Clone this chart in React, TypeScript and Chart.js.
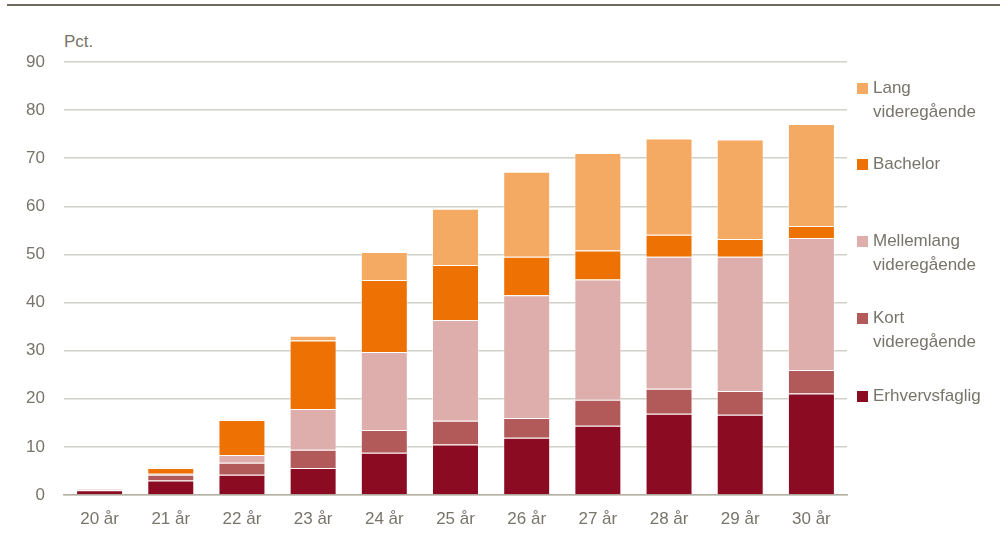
import React, { useEffect, useRef } from "react";
import { Chart, registerables } from "chart.js";

Chart.register(...registerables);

const categories = ["20 år", "21 år", "22 år", "23 år", "24 år", "25 år", "26 år", "27 år", "28 år", "29 år", "30 år"];
const erhvervsfaglig = [1.0, 3.0, 4.2, 5.6, 8.8, 10.5, 11.9, 14.4, 16.9, 16.7, 21.1];
const kortVideregaaende = [0.1, 1.2, 2.5, 3.8, 4.7, 4.95, 4.1, 5.4, 5.2, 4.9, 4.9];
const mellemlangVideregaaende = [0.2, 0.2, 1.6, 8.5, 16.2, 20.95, 25.5, 25.0, 27.4, 27.9, 27.4];
const bachelor = [0.0, 1.2, 7.3, 14.2, 15.0, 11.4, 8.0, 6.0, 4.6, 3.7, 2.5];
const langVideregaaende = [0.0, 0.1, 0.1, 1.0, 5.8, 11.7, 17.7, 20.3, 20.0, 20.7, 21.2];
const yTicks = [0, 10, 20, 30, 40, 50, 60, 70, 80, 90];

const seriesNames = ["Erhvervsfaglig", "Kort videregående", "Mellemlang videregående", "Bachelor", "Lang videregående"];
const seriesColors = ["#8B0C22", "#B2595A", "#DEAEAC", "#EE7203", "#F5AA63"];
const seriesData = [erhvervsfaglig, kortVideregaaende, mellemlangVideregaaende, bachelor, langVideregaaende];

const legendItems = [
  { lines: ["Lang", "videregående"], color: "#F5AA63", center: 88 },
  { lines: ["Bachelor"], color: "#EE7203", center: 164 },
  { lines: ["Mellemlang", "videregående"], color: "#DEAEAC", center: 241 },
  { lines: ["Kort", "videregående"], color: "#B2595A", center: 318 },
  { lines: ["Erhvervsfaglig"], color: "#8B0C22", center: 396 },
];

const FONT = "'Liberation Sans Narrow', 'Arial Narrow', 'Liberation Sans', sans-serif";
const TEXT = "#77746a";

export default function App() {
  const ref = useRef<HTMLCanvasElement | null>(null);

  useEffect(() => {
    if (!ref.current) return;
    const chart = new Chart(ref.current, {
      type: "bar",
      data: {
        labels: categories,
        datasets: seriesData.map((d, i) => ({
          label: seriesNames[i],
          data: d,
          backgroundColor: seriesColors[i],
          borderColor: "rgba(255,255,255,0.45)",
          borderWidth: 1,
          barPercentage: 0.66,
          categoryPercentage: 1,
        })),
      },
      options: {
        animation: false,
        responsive: false,
        maintainAspectRatio: false,
        layout: { padding: { left: 0, right: 153, top: 62, bottom: 0 } },
        plugins: { legend: { display: false }, tooltip: { enabled: false } },
        scales: {
          x: {
            stacked: true,
            grid: { display: false, drawTicks: false },
            border: { display: true, color: "#b3b0a4", width: 1.5 },
            ticks: { color: TEXT, font: { family: FONT, size: 17 }, padding: 14 },
            afterFit: (s: any) => { s.height = 44; },
          },
          y: {
            stacked: true,
            min: 0,
            max: 90,
            afterBuildTicks: (s: any) => { s.ticks = yTicks.map((v) => ({ value: v })); },
            grid: { color: "#d2d0c7", lineWidth: 1.5, drawTicks: false },
            border: { display: false },
            ticks: { color: TEXT, font: { family: FONT, size: 17 }, padding: 19 },
            afterFit: (s: any) => { s.width = 64; },
          },
        },
      },
    });
    return () => chart.destroy();
  }, []);

  return (
    <div style={{ position: "fixed", left: 0, top: 0, width: 1000, height: 539, background: "#fff", overflow: "hidden", fontFamily: FONT }}>
      <div style={{ position: "absolute", left: 7, top: 4, width: 993, height: 2, background: "#6f6b5d" }} />
      <div style={{ position: "absolute", left: 64, top: 32, fontSize: 17, color: TEXT, lineHeight: "20px" }}>Pct.</div>
      <canvas ref={ref} width={1000} height={539} style={{ position: "absolute", left: 0, top: 0, width: 1000, height: 539 }} />
      {legendItems.map((it) => (
        <div key={it.lines[0]} style={{ position: "absolute", left: 857, top: it.center - 12 }}>
          <div style={{ position: "absolute", left: 0, top: 7, width: 11, height: 11, background: it.color }} />
          <div style={{ position: "absolute", left: 16, top: 0, fontSize: 17, lineHeight: "24px", color: TEXT, whiteSpace: "nowrap" }}>
            {it.lines.map((l) => (<div key={l}>{l}</div>))}
          </div>
        </div>
      ))}
    </div>
  );
}
